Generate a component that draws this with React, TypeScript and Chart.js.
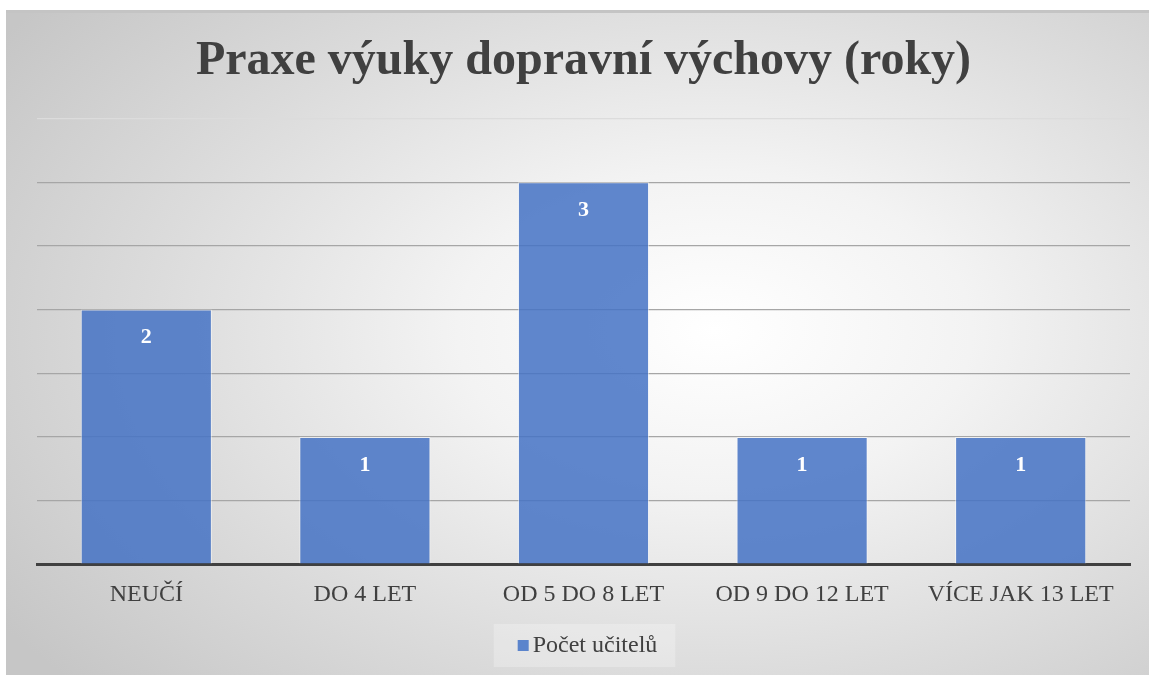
import React, { useEffect, useRef } from "react";
import { Chart, registerables } from "chart.js";

Chart.register(...registerables);

const categories = ["NEUČÍ", "DO 4 LET", "OD 5 DO 8 LET", "OD 9 DO 12 LET", "VÍCE JAK 13 LET"];
const teacherCounts = [2, 1, 3, 1, 1];
const seriesLabel = "Počet učitelů";
const chartTitle = "Praxe výuky dopravní výchovy (roky)";

const SERIF = "'Liberation Serif', 'Times New Roman', serif";
const BAR_COLOR = "rgba(68,114,196,0.85)";

const valueLabels = {
  id: "valueLabels",
  afterDatasetsDraw(chart: any) {
    const ctx = chart.ctx;
    const meta = chart.getDatasetMeta(0);
    ctx.save();
    ctx.fillStyle = "#ffffff";
    ctx.font = `bold 22px ${SERIF}`;
    ctx.textAlign = "center";
    ctx.textBaseline = "middle";
    meta.data.forEach((bar: any, i: number) => {
      ctx.fillText(String(teacherCounts[i]), bar.x, bar.y + 28);
    });
    ctx.restore();
  },
};

const customLegend = {
  id: "customLegend",
  afterDraw(chart: any) {
    const ctx = chart.ctx;
    ctx.save();
    ctx.font = `24px ${SERIF}`;
    const tw = ctx.measureText(seriesLabel).width;
    const sq = 11;
    const gap = 4;
    const total = sq + gap + tw;
    const cx = chart.width / 2 + 10;
    const cy = chart.height - 30;
    const x0 = cx - total / 2;
    ctx.fillStyle = "rgba(255,255,255,0.25)";
    ctx.fillRect(x0 - 24, cy - 21, total + 42, 43);
    ctx.fillStyle = "#5b84cc";
    ctx.fillRect(x0, cy - 5, sq, sq);
    ctx.fillStyle = "#404040";
    ctx.textAlign = "left";
    ctx.textBaseline = "middle";
    ctx.fillText(seriesLabel, x0 + sq + gap, cy + 1);
    ctx.restore();
  },
};

export default function App() {
  const ref = useRef<HTMLCanvasElement | null>(null);
  useEffect(() => {
    if (!ref.current) return;
    const chart = new Chart(ref.current, {
      type: "bar",
      data: {
        labels: categories,
        datasets: [
          {
            label: seriesLabel,
            data: teacherCounts,
            backgroundColor: BAR_COLOR,
            borderColor: "rgba(255,255,255,0.55)",
            borderWidth: 1,
            barPercentage: 0.6,
            categoryPercentage: 1,
          },
        ],
      },
      options: {
        animation: false,
        responsive: true,
        maintainAspectRatio: false,
        layout: { padding: { left: 31, right: 19, top: 0, bottom: 50 } },
        scales: {
          x: {
            grid: { display: false, drawTicks: false },
            border: { display: true, color: "#404040", width: 3 },
            ticks: { color: "#404040", font: { family: SERIF, size: 24 }, padding: 16 },
          },
          y: {
            min: 0,
            max: 3.5,
            ticks: { display: false, stepSize: 0.5 },
            border: { display: false },
            grid: {
              drawTicks: false,
              color: (c: any) => (c.tick && c.tick.value === 3.5 ? "#dcdcdc" : "#a6a6a6"),
              lineWidth: 1.2,
            },
          },
        },
        plugins: {
          title: {
            display: true,
            text: chartTitle,
            color: "#404040",
            font: { family: SERIF, size: 48, weight: "bold" },
            padding: { top: 20, bottom: 28 },
          },
          legend: { display: false },
          tooltip: { enabled: false },
        },
      },
      plugins: [valueLabels, customLegend],
    });
    return () => chart.destroy();
  }, []);
  return (
    <div
      style={{
        position: "fixed",
        left: 6,
        top: 10,
        width: 1143,
        height: 665,
        borderTop: "3px solid #c4c4c4",
        boxSizing: "border-box",
        background: "radial-gradient(ellipse 75% 80% at 62% 48%, #ffffff 0%, #f3f3f3 30%, #dcdcdc 65%, #c6c6c6 100%)",
      }}
    >
      <canvas ref={ref} />
    </div>
  );
}
